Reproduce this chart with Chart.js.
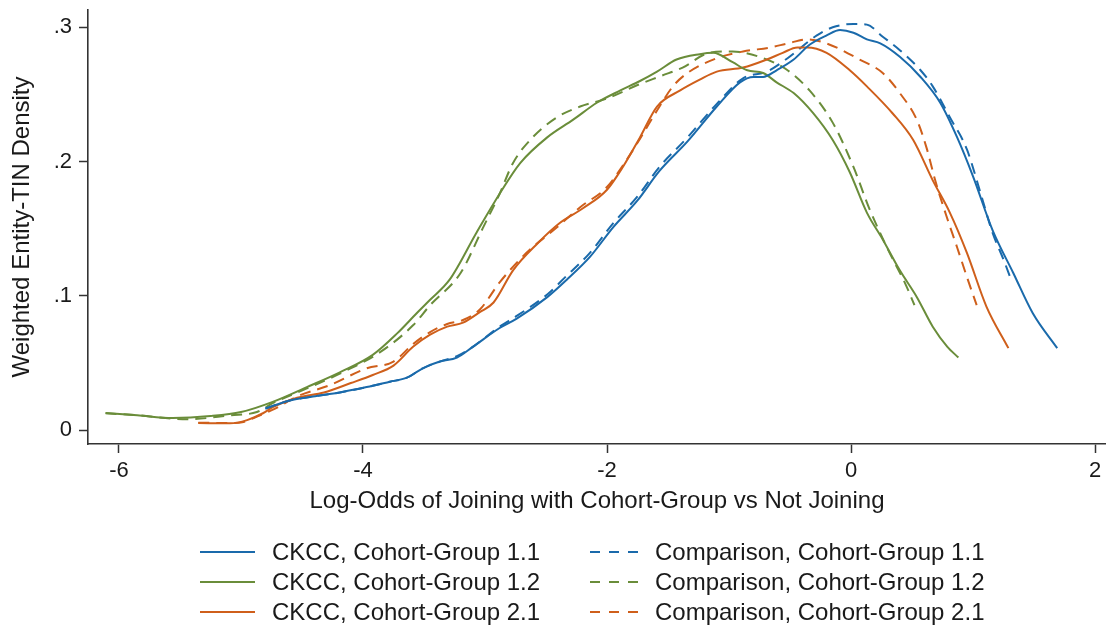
<!DOCTYPE html>
<html lang="en">
<head>
  <meta charset="UTF-8">
  <title>Log-Odds Density</title>
  <script src="https://cdn.jsdelivr.net/npm/chart.js@4"></script>
  <style>
    body { margin: 0; background: #fff; font-family: "Liberation Sans", Arial, sans-serif; }
    #wrap { position: relative; width: 1106px; height: 633px; }
    #legend { position: absolute; left: 0; top: 0; }
    .item { position: absolute; height: 30px; display: flex; align-items: center;
            font-size: 24px; color: #1a1a1a; white-space: nowrap; }
    .item svg { margin-right: 17px; }
  </style>
</head>
<body>
  <div id="wrap">
    <canvas id="chart" width="1106" height="633"></canvas>
    <div id="legend"></div>
  </div>

  <script>
    // axis ticks
    const xTicks = [-6, -4, -2, 0, 2];
    const yTicks = [0, 0.1, 0.2, 0.3];
    const yTickLabels = ['0', '.1', '.2', '.3'];

    // CKCC, Cohort-Group 1.1
    const ckcc11X = [-4.80, -4.60, -4.41, -4.19, -3.97, -3.78, -3.64, -3.51, -3.37, -3.23, -3.10, -2.88, -2.74, -2.49, -2.33, -2.14, -1.95, -1.75, -1.57, -1.34, -1.10, -0.91, -0.80, -0.72, -0.61, -0.47, -0.34, -0.20, -0.09, 0.02, 0.13, 0.24, 0.40, 0.57, 0.73, 0.87, 1.00, 1.16, 1.33, 1.49, 1.69];
    const ckcc11Y = [0.016, 0.022, 0.025, 0.028, 0.032, 0.036, 0.039, 0.046, 0.051, 0.054, 0.062, 0.076, 0.083, 0.099, 0.112, 0.129, 0.151, 0.171, 0.193, 0.215, 0.241, 0.259, 0.263, 0.263, 0.268, 0.276, 0.287, 0.294, 0.298, 0.296, 0.291, 0.288, 0.278, 0.263, 0.244, 0.218, 0.189, 0.149, 0.117, 0.087, 0.061];

    // Comparison, Cohort-Group 1.1
    const comp11X = [-4.80, -4.60, -4.41, -4.19, -3.97, -3.78, -3.64, -3.51, -3.37, -3.23, -3.10, -2.88, -2.74, -2.49, -2.33, -2.14, -1.95, -1.75, -1.57, -1.34, -1.10, -0.885, -0.69, -0.52, -0.28, -0.15, 0.02, 0.13, 0.26, 0.40, 0.57, 0.67, 0.81, 0.95, 1.06, 1.16, 1.25, 1.32];
    const comp11Y = [0.016, 0.022, 0.025, 0.028, 0.032, 0.036, 0.039, 0.046, 0.051, 0.055, 0.062, 0.077, 0.085, 0.101, 0.115, 0.132, 0.154, 0.174, 0.196, 0.218, 0.243, 0.262, 0.267, 0.277, 0.294, 0.300, 0.3025, 0.302, 0.293, 0.283, 0.268, 0.256, 0.233, 0.209, 0.177, 0.147, 0.127, 0.110];

    // CKCC, Cohort-Group 1.2
    const ckcc12X = [-6.11, -5.85, -5.56, -5.25, -5.00, -4.74, -4.46, -4.19, -3.92, -3.72, -3.56, -3.45, -3.29, -3.07, -2.88, -2.71, -2.49, -2.28, -2.08, -1.89, -1.73, -1.59, -1.43, -1.24, -1.13, -0.97, -0.85, -0.72, -0.61, -0.47, -0.31, -0.15, -0.01, 0.13, 0.26, 0.40, 0.54, 0.67, 0.79, 0.88];
    const ckcc12Y = [0.0127, 0.011, 0.009, 0.0104, 0.0134, 0.021, 0.032, 0.043, 0.056, 0.072, 0.087, 0.097, 0.112, 0.147, 0.176, 0.199, 0.218, 0.231, 0.244, 0.253, 0.260, 0.267, 0.276, 0.280, 0.281, 0.274, 0.268, 0.266, 0.259, 0.251, 0.236, 0.216, 0.192, 0.162, 0.142, 0.119, 0.099, 0.077, 0.062, 0.054];

    // Comparison, Cohort-Group 1.2
    const comp12X = [-6.11, -5.85, -5.44, -5.09, -4.87, -4.74, -4.46, -4.19, -3.86, -3.59, -3.45, -3.20, -3.02, -2.88, -2.77, -2.61, -2.41, -2.22, -2.00, -1.75, -1.55, -1.38, -1.16, -0.97, -0.75, -0.52, -0.34, -0.15, 0.02, 0.15, 0.30, 0.45, 0.52];
    const comp12Y = [0.0125, 0.011, 0.008, 0.011, 0.0134, 0.020, 0.031, 0.042, 0.058, 0.078, 0.093, 0.117, 0.150, 0.176, 0.199, 0.218, 0.233, 0.241, 0.247, 0.257, 0.264, 0.270, 0.281, 0.282, 0.278, 0.268, 0.253, 0.229, 0.196, 0.165, 0.135, 0.108, 0.093];

    // CKCC, Cohort-Group 2.1
    const ckcc21X = [-5.35, -5.09, -4.95, -4.82, -4.74, -4.54, -4.32, -4.10, -3.92, -3.75, -3.59, -3.45, -3.31, -3.18, -3.04, -2.93, -2.77, -2.57, -2.39, -2.20, -2.00, -1.87, -1.73, -1.59, -1.40, -1.24, -1.10, -0.885, -0.69, -0.56, -0.44, -0.36, -0.20, -0.01, 0.13, 0.34, 0.51, 0.67, 0.81, 0.95, 1.11, 1.29];
    const ckcc21Y = [0.0052, 0.005, 0.0074, 0.0125, 0.017, 0.024, 0.028, 0.035, 0.041, 0.048, 0.062, 0.071, 0.077, 0.080, 0.088, 0.095, 0.119, 0.139, 0.154, 0.165, 0.179, 0.196, 0.218, 0.241, 0.253, 0.261, 0.267, 0.270, 0.276, 0.281, 0.285, 0.285, 0.281, 0.268, 0.256, 0.236, 0.216, 0.186, 0.162, 0.132, 0.092, 0.061];

    // Comparison, Cohort-Group 2.1
    const comp21X = [-5.35, -5.09, -4.98, -4.87, -4.72, -4.54, -4.27, -3.97, -3.75, -3.59, -3.45, -3.31, -3.18, -3.04, -2.88, -2.66, -2.41, -2.22, -2.00, -1.87, -1.75, -1.59, -1.46, -1.34, -1.10, -0.885, -0.66, -0.52, -0.36, -0.20, 0.07, 0.26, 0.40, 0.54, 0.62, 0.69, 0.78, 0.87, 0.95, 1.03];
    const comp21Y = [0.0055, 0.0052, 0.006, 0.010, 0.016, 0.025, 0.0335, 0.046, 0.051, 0.064, 0.073, 0.079, 0.082, 0.090, 0.110, 0.132, 0.151, 0.166, 0.181, 0.197, 0.214, 0.238, 0.256, 0.266, 0.277, 0.282, 0.285, 0.288, 0.291, 0.288, 0.276, 0.266, 0.251, 0.231, 0.210, 0.186, 0.160, 0.136, 0.114, 0.093];

    const blue = '#1a6aab';
    const green = '#6a8d3a';
    const orange = '#cf5f1b';
    const ink = '#1a1a1a';
    const axisColor = '#333333';

    function pts(xs, ys) {
      return xs.map((x, i) => ({ x: x, y: ys[i] }));
    }

    function series(label, xs, ys, color, dashed) {
      return {
        label: label,
        data: pts(xs, ys),
        borderColor: color,
        backgroundColor: color,
        borderWidth: 2,
        borderDash: dashed ? [11, 7] : [],
        pointRadius: 0,
        fill: false
      };
    }

    const datasets = [
      series('CKCC, Cohort-Group 1.1', ckcc11X, ckcc11Y, blue, false),
      series('CKCC, Cohort-Group 1.2', ckcc12X, ckcc12Y, green, false),
      series('CKCC, Cohort-Group 2.1', ckcc21X, ckcc21Y, orange, false),
      series('Comparison, Cohort-Group 1.1', comp11X, comp11Y, blue, true),
      series('Comparison, Cohort-Group 1.2', comp12X, comp12Y, green, true),
      series('Comparison, Cohort-Group 2.1', comp21X, comp21Y, orange, true)
    ];

    // no extra room for half tick labels, the plot box is fixed
    function noPad(s) {
      s.paddingTop = 0;
      s.paddingBottom = 0;
      s.paddingLeft = 0;
      s.paddingRight = 0;
    }

    new Chart(document.getElementById('chart'), {
      type: 'line',
      data: { datasets: datasets },
      options: {
        responsive: false,
        animation: false,
        devicePixelRatio: 1,
        layout: { padding: { top: 10, right: 0, bottom: 109, left: 0 } },
        plugins: {
          legend: { display: false },
          tooltip: { enabled: false }
        },
        elements: {
          line: { cubicInterpolationMode: 'monotone' }
        },
        scales: {
          x: {
            type: 'linear',
            min: -6.254,
            max: 2.09,
            afterBuildTicks: (axis) => { axis.ticks = xTicks.map(v => ({ value: v })); },
            afterFit: (s) => { s.height = 80; noPad(s); },
            ticks: {
              color: ink,
              font: { family: 'Liberation Sans', size: 22 },
              padding: 5,
              maxRotation: 0,
              autoSkip: false,
              callback: (v) => String(v)
            },
            grid: {
              drawOnChartArea: false,
              drawTicks: true,
              tickLength: 9,
              tickColor: axisColor,
              tickWidth: 1.5
            },
            border: { display: true, color: axisColor, width: 1.6 },
            title: {
              display: true,
              text: 'Log-Odds of Joining with Cohort-Group vs Not Joining',
              color: ink,
              font: { family: 'Liberation Sans', size: 24 },
              padding: { top: 0, bottom: 8 }
            }
          },
          y: {
            type: 'linear',
            min: -0.0104,
            max: 0.3129,
            afterBuildTicks: (axis) => { axis.ticks = yTicks.map(v => ({ value: v })); },
            afterFit: (s) => { s.width = 88; noPad(s); },
            ticks: {
              color: ink,
              font: { family: 'Liberation Sans', size: 22 },
              padding: 7,
              autoSkip: false,
              callback: (v) => yTickLabels[yTicks.indexOf(v)]
            },
            grid: {
              drawOnChartArea: false,
              drawTicks: true,
              tickLength: 9,
              tickColor: axisColor,
              tickWidth: 1.5
            },
            border: { display: true, color: axisColor, width: 1.6 },
            title: {
              display: true,
              text: 'Weighted Entity-TIN Density',
              color: ink,
              font: { family: 'Liberation Sans', size: 24 },
              padding: { top: 8, bottom: 0 }
            }
          }
        }
      }
    });

    // legend in two columns: CKCC on the left, Comparison on the right
    const legendRows = [552, 582, 612];
    const legendCols = [200, 583];
    const legend = document.getElementById('legend');
    datasets.forEach((ds, i) => {
      const col = Math.floor(i / 3);
      const row = i % 3;
      const item = document.createElement('div');
      item.className = 'item';
      item.style.left = legendCols[col] + 'px';
      item.style.top = (legendRows[row] - 15) + 'px';
      const dash = ds.borderDash.length ? 'stroke-dasharray="10 9"' : '';
      const x1 = ds.borderDash.length ? 7 : 0;
      item.innerHTML =
        '<svg width="55" height="4"><line x1="' + x1 + '" y1="2" x2="55" y2="2" stroke="' +
        ds.borderColor + '" stroke-width="2.2" ' + dash + '/></svg><span>' + ds.label + '</span>';
      legend.appendChild(item);
    });
  </script>
</body>
</html>
